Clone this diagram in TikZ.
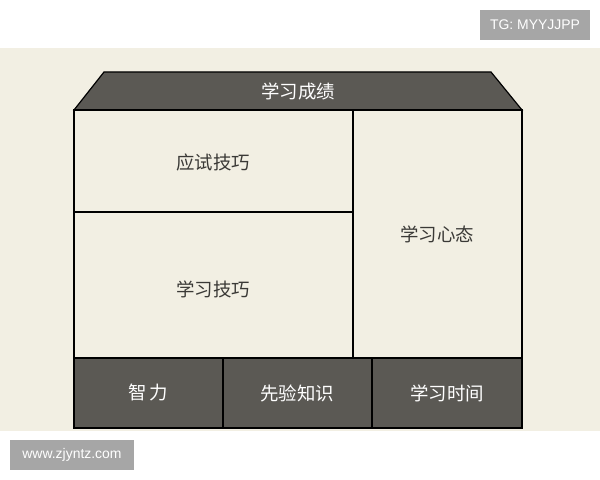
\documentclass[tikz,border=0pt]{standalone}
\usepackage{fontspec}
\setmainfont{Liberation Sans}
\newfontfamily\cjk{Noto Sans CJK SC}
\definecolor{paper}{HTML}{F2EFE3}
\definecolor{slate}{HTML}{5B5954}
\definecolor{tagbg}{HTML}{A6A6A6}
\definecolor{ink}{HTML}{3A3936}

\begin{document}
\begin{tikzpicture}[x=1bp,y=-1bp,
	lbl/.style={text=ink, font=\cjk\fontsize{18.5}{22}\selectfont},
	dlbl/.style={text=white, font=\cjk\fontsize{18.5}{22}\selectfont},
	tag/.style={text=white, font=\fontsize{14}{16}\selectfont}]
	\useasboundingbox (0,0) rectangle (600,480);
	\fill [white] (0,0) rectangle (600,480);
	\fill [paper] (0,48) rectangle (600,431);
	
	\draw [line width=1.2pt, fill=slate] (74,110) -- (104,72) -- (491,72) -- (522,110) -- cycle;
	\draw (298,91) node[dlbl] (score) {学习成绩};
	
	\draw [line width=1.2pt] (74,110) rectangle (353,212);
	\draw (213,162) node[lbl] (exam) {应试技巧};
	\draw [line width=1.2pt] (74,212) rectangle (353,358);
	\draw (213,289) node[lbl] (skill) {学习技巧};
	\draw [line width=1.2pt] (353,110) rectangle (522,358);
	\draw (437,234) node[lbl] (mind) {学习心态};
	
	\draw [line width=1.2pt, fill=slate] (74,358) rectangle (223,428);
	\draw (148,393) node[dlbl] (iq) {智\,力};
	\draw [line width=1.2pt, fill=slate] (223,358) rectangle (372,428);
	\draw (297,393) node[dlbl] (prior) {先验知识};
	\draw [line width=1.2pt, fill=slate] (372,358) rectangle (522,428);
	\draw (447,393) node[dlbl] (time) {学习时间};
	
	\fill [tagbg] (480,10) rectangle (590,40);
	\draw (535,25) node[tag] (tg) {TG: MYYJJPP};
	\fill [tagbg] (10,440) rectangle (134,470);
	\draw (72,455) node[tag] (site) {www.zjyntz.com};
\end{tikzpicture}
\end{document}
